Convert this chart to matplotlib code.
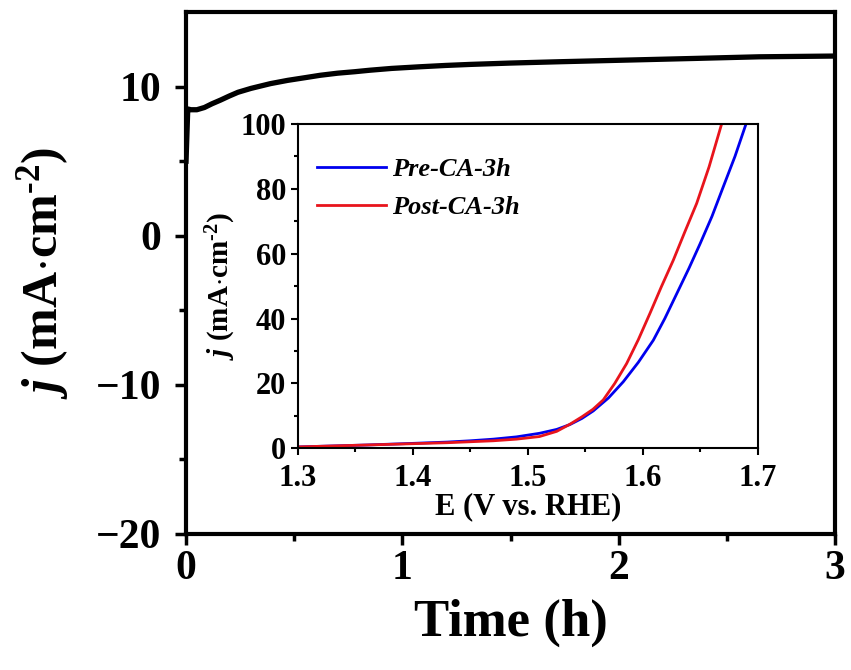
# Chronoamperometry (CA) curve with LSV inset, before/after 3 h
import matplotlib.pyplot as plt
import numpy as np

plt.rcParams['font.family'] = ['Liberation Serif', 'DejaVu Serif']
plt.rcParams['font.weight'] = 'bold'
plt.rcParams['mathtext.fontset'] = 'custom'
plt.rcParams['mathtext.rm'] = 'Liberation Serif:bold'
plt.rcParams['mathtext.it'] = 'Liberation Serif:italic:bold'
plt.rcParams['mathtext.bf'] = 'Liberation Serif:bold'

# main CA curve
time_h = [0.0, 0.008, 0.023, 0.05, 0.085, 0.12, 0.16, 0.20, 0.24, 0.30, 0.39,
          0.47, 0.55, 0.62, 0.70, 0.78, 0.85, 0.95, 1.08, 1.20, 1.315, 1.50,
          1.73, 2.04, 2.35, 2.65, 3.0]
current = [5.0, 8.5, 8.45, 8.45, 8.6, 8.85, 9.1, 9.37, 9.62, 9.88, 10.2,
           10.42, 10.6, 10.76, 10.9, 11.0, 11.1, 11.22, 11.33, 11.42, 11.49,
           11.58, 11.67, 11.78, 11.89, 12.0, 12.05]

# inset LSV curves
e_pre = [1.30, 1.33, 1.36, 1.40, 1.43, 1.45, 1.47, 1.49, 1.51, 1.525, 1.5365,
         1.547, 1.5568, 1.57, 1.5829, 1.596, 1.609, 1.619, 1.6293, 1.64,
         1.6496, 1.66, 1.6698, 1.68, 1.6896]
j_pre = [0.4, 0.7, 1.0, 1.5, 1.9, 2.3, 2.8, 3.5, 4.6, 5.8, 7.3,
         9.2, 11.5, 15.5, 20.5, 26.5, 33.3, 40.0, 47.6, 55.5,
         63.0, 71.5, 80.6, 90.0, 100.0]
e_post = [1.30, 1.33, 1.36, 1.40, 1.43, 1.45, 1.47, 1.49, 1.51, 1.525, 1.5365,
          1.547, 1.5565, 1.5655, 1.5755, 1.5858, 1.596, 1.6061, 1.616, 1.6264,
          1.6365, 1.6467, 1.6575, 1.6684]
j_post = [0.4, 0.7, 1.0, 1.4, 1.7, 2.0, 2.3, 2.8, 3.6, 5.2, 7.4,
          9.7, 12.0, 14.9, 20.0, 26.1, 33.5, 41.6, 49.8, 58.0,
          66.8, 75.5, 86.8, 100.0]

fig = plt.figure(figsize=(8.51, 6.70), dpi=100)
ax = fig.add_axes([0.2186, 0.203, 0.7626, 0.779])
ax.plot(time_h, current, color='black', linewidth=3.8)
ax.set_xlim(0, 3)
ax.set_ylim(-20, 15)
ax.set_xticks([0, 1, 2, 3])
ax.set_yticks([-20, -10, 0, 10])
ax.set_xticks([0.5, 1.5, 2.5], minor=True)
ax.set_yticks([-15, -5, 5], minor=True)
ax.tick_params(which='major', direction='out', length=8, width=2.5,
               labelsize=30, top=False, right=False)
ax.tick_params(which='minor', direction='out', length=5, width=2.5,
               top=False, right=False)
ax.tick_params(axis='y', which='major', pad=10)
for s in ax.spines.values():
    s.set_linewidth(3)
ax.set_xlabel('Time (h)', fontsize=38, fontweight='bold', labelpad=8)
ax.set_ylabel(r'$j$ (mA$\cdot$cm$^{\text{-}2}$)', fontsize=36,
              fontweight='bold', labelpad=18)

# inset
ins = fig.add_axes([0.350, 0.331, 0.5407, 0.484])
ins.plot(e_pre, j_pre, color='#0000ee', linewidth=2, label='Pre-CA-3h')
ins.plot(e_post, j_post, color='#e8141c', linewidth=2, label='Post-CA-3h')
ins.set_xlim(1.3, 1.7)
ins.set_ylim(0, 100)
ins.set_xticks([1.3, 1.4, 1.5, 1.6, 1.7])
ins.set_yticks([0, 20, 40, 60, 80, 100])
ins.set_xticks([1.35, 1.45, 1.55, 1.65], minor=True)
ins.set_yticks([10, 30, 50, 70, 90], minor=True)
ins.tick_params(which='major', direction='out', length=5, width=1.5,
                labelsize=22)
ins.tick_params(which='minor', direction='out', length=3, width=1.5)
ins.tick_params(axis='x', which='major', pad=6)
for s in ins.spines.values():
    s.set_linewidth(1.5)
ins.set_xlabel('E (V vs. RHE)', fontsize=22, fontweight='bold', labelpad=0)
ins.set_ylabel(r'$j$ (mA$\cdot$cm$^{\text{-}2}$)', fontsize=21,
               fontweight='bold', labelpad=2)
ins.legend(loc='upper left', frameon=False, handlelength=2.6,
           handletextpad=0.25, labelspacing=0.55,
           prop={'size': 19, 'style': 'italic', 'weight': 'bold'},
           bbox_to_anchor=(-0.01, 0.97), borderaxespad=0.5)

fig.savefig('out.png', dpi=100)
